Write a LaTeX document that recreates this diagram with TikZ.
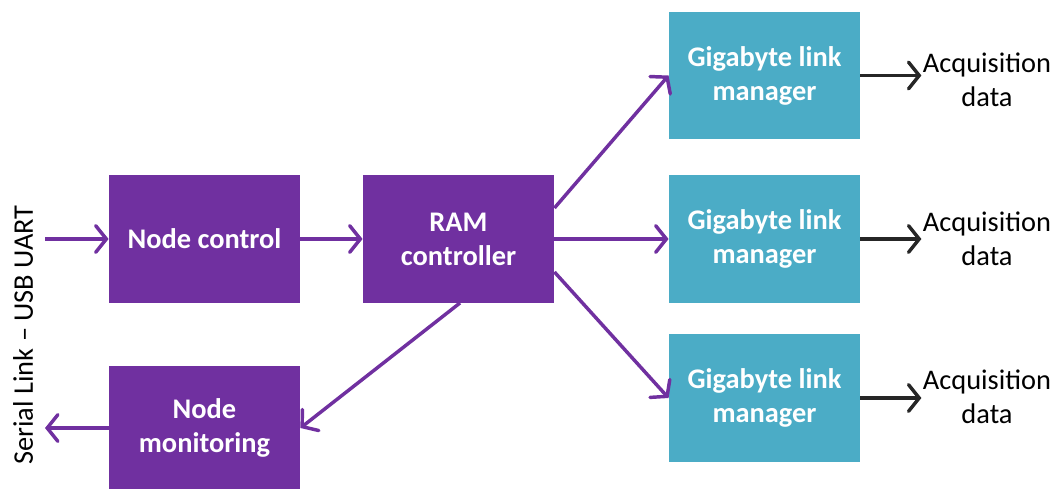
\documentclass[tikz,border=0pt]{standalone}
\usepackage{fontspec}
\setmainfont{Carlito}
\usetikzlibrary{arrows.meta,calc}
\definecolor{purp}{HTML}{7030A0}
\definecolor{teal2}{HTML}{4BACC6}
\definecolor{dark}{HTML}{262626}
\tikzset{
  box/.style={fill=#1, draw=none, text=white, font=\bfseries\fontsize{21.3}{25.5}\selectfont, align=center, inner sep=0pt, minimum width=143.5pt, minimum height=95.5pt},
  parr/.style={draw=purp, line width=2.6pt, -{Straight Barb[length=8pt,width=20pt,line width=2.6pt,line cap=round]}},
  barr/.style={draw=dark, line width=2.6pt, -{Straight Barb[length=8pt,width=20pt,line width=2.6pt,line cap=round]}},
  lbl/.style={font=\fontsize{21.3}{25.5}\selectfont, align=center, inner sep=0pt}
}
\begin{document}
\begin{tikzpicture}[x=0.75pt,y=-0.75pt]
\useasboundingbox (0,0) rectangle (1057,489);
\node[box=purp] (nc) at (204.5,239) {Node control};
\node[box=purp, minimum height=92.25pt] (nm) at (204.5,427.5) {Node\\monitoring};
\node[box=purp] (ram) at (458.5,239) {RAM\\controller};
\node[box=teal2] (g1) at (764.5,75.5) {Gigabyte link\\manager};
\node[box=teal2] (g2) at (764.5,239) {Gigabyte link\\manager};
\node[box=teal2] (g3) at (764.5,398) {Gigabyte link\\manager};
\coordinate (in) at (45,239);
\coordinate (out) at (45,428);
\node[lbl, rotate=90] (serial) at (23,335) {Serial Link – USB UART};
\node[lbl] (a1) at (987,80) {Acquisition\\data};
\node[lbl] (a2) at (987,239) {Acquisition\\data};
\node[lbl] (a3) at (987,397) {Acquisition\\data};
\draw[parr] (in) -- (nc.west);
\draw[parr] (nc.east) -- (ram.west);
\draw[parr] (ram.east) -- (g2.west);
\draw[parr] ($(ram.east)+(0,-31)$) -- (g1.west);
\draw[parr] ($(ram.east)+(0,33)$) -- (g3.west);
\draw[parr] ($(ram.south)+(1.5,0)$) -- ($(nm.east)+(0,0.5)$);
\draw[parr] (nm.west |- out) -- (out);
\draw[barr] (g1.east) -- ++(61,0);
\draw[barr] (g2.east) -- ++(61,0);
\draw[barr] (g3.east) -- ++(61,0);
\end{tikzpicture}
\end{document}
